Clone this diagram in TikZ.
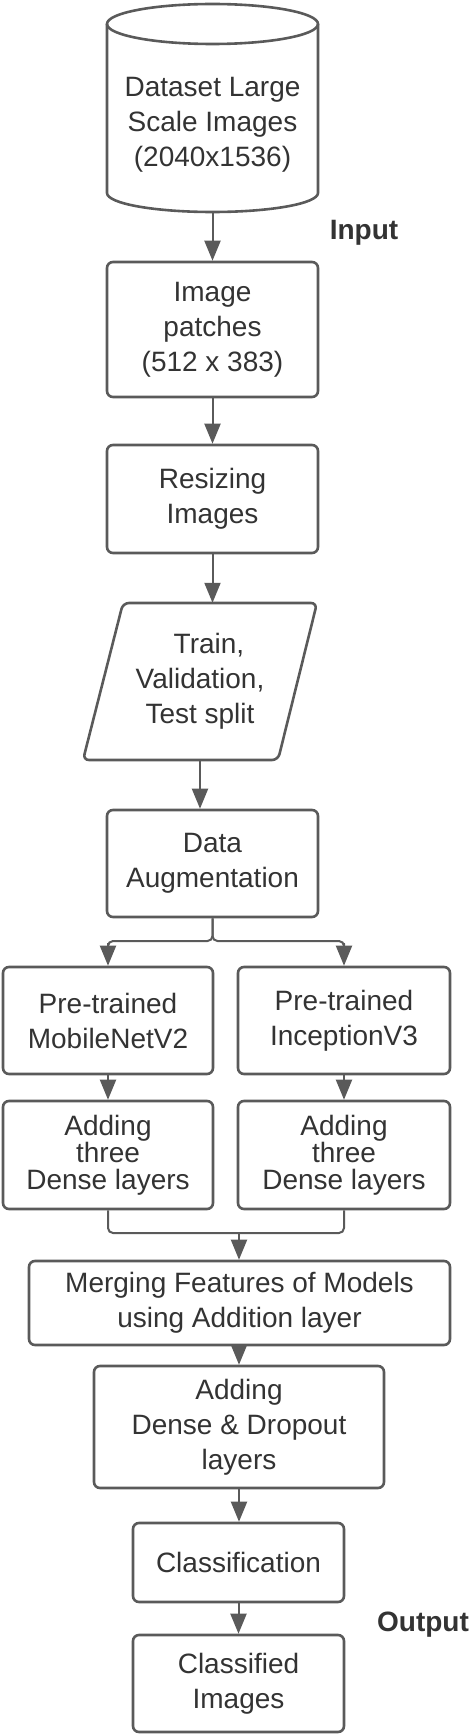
\documentclass[tikz,border=0pt]{standalone}
\usepackage{fontspec}
\setmainfont{Liberation Sans}
\usepackage[svgnames]{xcolor}
\usetikzlibrary{arrows.meta}
\definecolor{linegray}{HTML}{5A5A5A}
\definecolor{textgray}{HTML}{333333}

\begin{document}
\begin{tikzpicture}[x=1pt, y=1pt, % 1単位=1pt、yは下向きに負
    txt/.style={align=center, text=textgray, inner sep=0pt, font=\fontsize{28}{35}\selectfont}, % 文字だけ
    box/.style={txt, draw=linegray, line width=2.6pt, rounded corners=6pt}, % 角丸の箱
    tight/.style={font=\fontsize{28}{27}\selectfont}, % 行間を詰める
    line/.style={draw=linegray, line width=2pt}, % 接続線
    arr/.style={line, -{Triangle[width=16pt, length=20pt]}}, % 矢印
    lbl/.style={text=textgray, font=\fontsize{28}{35}\selectfont\bfseries}] % 太字ラベル
    \useasboundingbox (0,0) rectangle (472,-1736); % 画像の範囲

    % 円柱(データセット)
    \draw[draw=linegray, line width=2.6pt] (107,-24) -- (107,-193)
      arc[start angle=180, end angle=360, x radius=105.5, y radius=19] -- (318,-24);
    \draw[draw=linegray, line width=2.6pt] (212.5,-24) ellipse[x radius=105.5, y radius=20];
    \node[txt] (data) at (212.5,-125) {Dataset Large\\Scale Images\\(2040x1536)};
    \coordinate (datab) at (212.5,-212); % 円柱の下端

    \node[lbl] (inlbl) at (364,-233) {Input};
    \node[box, minimum width=211pt, minimum height=135pt] (patch) at (212.5,-329.5) {Image\\patches\\(512 x 383)};
    \node[box, minimum width=211pt, minimum height=108pt] (resize) at (212.5,-499) {Resizing\\Images};

    % 平行四辺形は直接描く
    \draw[draw=linegray, line width=2.6pt, rounded corners=6pt]
      (83,-760) -- (123,-603) -- (317,-603) -- (278,-760) -- cycle;
    \node[txt, minimum width=195pt, minimum height=157pt] (split) at (200,-681.5) {\hspace{18pt}Train,\\Validation,\\Test split\hspace{4pt}};

    \node[box, minimum width=211pt, minimum height=107pt] (aug) at (212.5,-863.5) {Data\\Augmentation};

    \node[box, minimum width=210pt, minimum height=107pt] (mob) at (108,-1020.5) {Pre-trained\\MobileNetV2};
    \node[box, minimum width=212pt, minimum height=107pt] (inc) at (344,-1020.5) {Pre-trained\\InceptionV3};
    \node[box, tight, minimum width=210pt, minimum height=108pt] (dense1) at (108,-1155) {Adding\\three\\Dense layers};
    \node[box, tight, minimum width=212pt, minimum height=108pt] (dense2) at (344,-1155) {Adding\\three\\Dense layers};

    \node[box, minimum width=421pt, minimum height=84pt] (merge) at (239.5,-1303) {Merging Features of Models\\using Addition layer};
    \node[box, minimum width=290pt, minimum height=122pt] (drop) at (239,-1427) {Adding\\Dense \& Dropout\\layers};
    \node[box, minimum width=211pt, minimum height=79pt] (cls) at (238.5,-1562.5) {Classification};
    \node[box, minimum width=211pt, minimum height=97pt] (res) at (238.5,-1683.5) {Classified\\Images};
    \node[lbl] (outlbl) at (423,-1625) {Output};

    % 矢印
    \draw[arr] (datab) -- (patch.north);
    \draw[arr] (patch) -- (resize);
    \draw[arr] (resize.south) -- (resize.south |- split.north);
    \draw[arr] (split.south) -- (split.south |- aug.north);
    \coordinate (fork) at (212.5,-941); % 分岐点
    \draw[line, rounded corners=5pt] (aug.south) -- (fork) -| ([yshift=22pt]mob.north);
    \draw[line, rounded corners=5pt] (aug.south) -- (fork) -| ([yshift=22pt]inc.north);
    \draw[arr] ([yshift=23pt]mob.north) -- (mob.north);
    \draw[arr] ([yshift=23pt]inc.north) -- (inc.north);
    \draw[arr] (mob) -- (dense1);
    \draw[arr] (inc) -- (dense2);
    \coordinate (join) at (239,-1233); % 合流点
    \draw[line, rounded corners=5pt] (dense1.south) |- (join) -| (dense2.south);
    \draw[arr] (join) -- (join |- merge.north);
    \draw[arr] (join |- merge.south) -- (join |- drop.north);
    \draw[arr] (drop.south) -- (drop.south |- cls.north);
    \draw[arr] (cls) -- (res);
\end{tikzpicture}
\end{document}
